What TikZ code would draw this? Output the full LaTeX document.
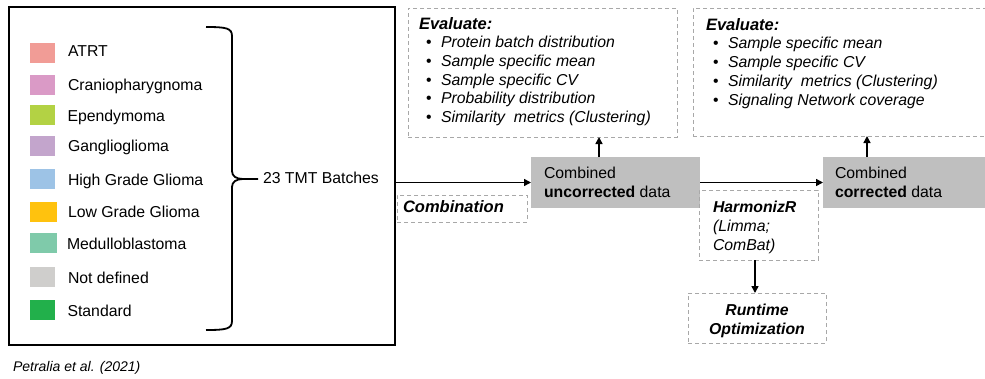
\documentclass[tikz,border=0pt]{standalone}
\usepackage{fontspec}
\setmainfont{Liberation Sans}
\usetikzlibrary{arrows.meta,calc}
\definecolor{cATRT}{HTML}{F19C96}
\definecolor{cCran}{HTML}{DA9AC6}
\definecolor{cEpen}{HTML}{B3D244}
\definecolor{cGang}{HTML}{C3A5CC}
\definecolor{cHGG}{HTML}{9DC3E6}
\definecolor{cLGG}{HTML}{FFC20E}
\definecolor{cMed}{HTML}{7FCAAA}
\definecolor{cND}{HTML}{CFCECC}
\definecolor{cStd}{HTML}{22B04B}
\definecolor{dashgray}{HTML}{A8A8A8}
\definecolor{boxgray}{HTML}{BFBFBF}
\newcommand{\mainfs}{\fontsize{15.8}{18.6}\selectfont}
\newcommand{\bigbfs}{\fontsize{16.5}{18.6}\selectfont}
\newcommand{\bit}[1]{\textbf{\textit{#1}}}
\newcommand{\evitem}[1]{\hbox{\hspace*{7pt}\makebox[15pt][l]{\textbullet}\textit{#1}}}
\tikzset{
  every node/.style={inner sep=0pt, outer sep=0pt},
  txt/.style={font=\mainfs, anchor=base west},
  swatch/.style={minimum height=20pt, anchor=west},
  dbox/.style={draw=dashgray, line width=0.9pt, dash pattern=on 4pt off 3pt, anchor=north west},
  gbox/.style={fill=boxgray, anchor=north west},
  arr/.style={line width=1.5pt, -{Triangle[length=7pt,width=7pt]}},
}
\begin{document}
\begin{tikzpicture}[x=1pt,y=-1pt]
\clip (0,0) rectangle (985,378);
\fill[white] (0,0) rectangle (985,378);
% left box
\node[draw=black, line width=1.8pt, anchor=north west, minimum width=386pt, minimum height=338pt] (leftbox) at (9,7) {};
% legend
\node[swatch, fill=cATRT, minimum width=25pt] (sw1) at (30,53) {};
\node[swatch, fill=cCran, minimum width=25pt] (sw2) at (30,85) {};
\node[swatch, fill=cEpen, minimum width=25pt] (sw3) at (30,114.5) {};
\node[swatch, fill=cGang, minimum width=25pt] (sw4) at (30,145.5) {};
\node[swatch, fill=cHGG, minimum width=25pt] (sw5) at (30,178.5) {};
\node[swatch, fill=cLGG, minimum width=27pt] (sw6) at (30,212) {};
\node[swatch, fill=cMed, minimum width=27pt] (sw7) at (30,243) {};
\node[swatch, fill=cND, minimum width=25pt] (sw8) at (30,277) {};
\node[swatch, fill=cStd, minimum width=25pt] (sw9) at (30,309.5) {};
\node[txt] (l1) at (68,56.7) {ATRT};
\node[txt] (l2) at (68,90) {Craniopharygnoma};
\node[txt] (l3) at (67.5,121.5) {Ependymoma};
\node[txt] (l4) at (68,151.7) {Ganglioglioma};
\node[txt] (l5) at (68,185) {High Grade Glioma};
\node[txt] (l6) at (68,217.7) {Low Grade Glioma};
\node[txt] (l7) at (67,249.3) {Medulloblastoma};
\node[txt] (l8) at (68,283.3) {Not defined};
\node[txt] (l9) at (67.5,316.7) {Standard};
% brace
\draw[line width=1.8pt] (206,27) .. controls (226,27) and (232,28) .. (232,36) -- (232,171)
  .. controls (232,176) and (236,179) .. (243,179) -- (258,179);
\draw[line width=1.8pt] (206,330) .. controls (226,330) and (232,329) .. (232,321) -- (232,187)
  .. controls (232,182) and (236,179) .. (243,179);
\node[txt] (batches) at (263,183.5) {23 TMT Batches};
\node[font=\fontsize{14}{16}\selectfont\itshape, anchor=base west] (cite) at (13,371.5) {Petralia et al. (2021)};
% grey data boxes
\node[gbox, minimum width=169pt, minimum height=51pt] (uncor) at (531,157) {};
\node[gbox, minimum width=175pt, minimum height=51pt] (corr) at (823,157) {};
\node[txt] (u1t) at (544,178.5) {Combined};
\node[txt] (u2t) at (544,197.5) {\textbf{uncorrected} data};
\node[txt] (c1t) at (835,178.5) {Combined};
\node[txt] (c2t) at (835,197.5) {\textbf{corrected} data};
% dashed boxes
\node[dbox, minimum width=269pt, minimum height=129pt] (eval1) at (408,8) {};
\node[dbox, minimum width=300pt, minimum height=128pt] (eval2) at (693,8) {};
\node[dbox, minimum width=130pt, minimum height=27pt] (comb) at (397,195) {};
\node[dbox, minimum width=119pt, minimum height=70pt] (harm) at (699,190) {};
\node[dbox, minimum width=138pt, minimum height=50pt] (runtime) at (688,293) {};
% dashed box texts
\node[txt] (ev1t) at (419,29.3) {\vtop{\baselineskip=18.6pt
  \hbox{\bigbfs\bit{Evaluate:}}
  \evitem{Protein batch distribution}
  \evitem{Sample specific mean}
  \evitem{Sample specific CV}
  \evitem{Probability distribution}
  \evitem{Similarity\ \ metrics (Clustering)}}};
\node[txt] (ev2t) at (706,30) {\vtop{\baselineskip=18.8pt
  \hbox{\bigbfs\bit{Evaluate:}}
  \evitem{Sample specific mean}
  \evitem{Sample specific CV}
  \evitem{Similarity\ \ metrics (Clustering)}
  \evitem{Signaling Network coverage}}};
\node[txt, font=\bigbfs] (combt) at (403,212) {\bit{Combination}};
\node[txt] (harmt) at (713,212.7) {\vtop{\baselineskip=19pt
  \hbox{\bit{HarmonizR}}
  \hbox{\textit{(Limma;}}
  \hbox{\textit{ComBat)}}}};
\node[font=\mainfs, anchor=base] (rt1) at (757,315) {\bit{Runtime}};
\node[font=\mainfs, anchor=base] (rt2) at (757,334.3) {\bit{Optimization}};
% connectors
\coordinate (ua) at (599,157);
\coordinate (ca) at (867,157);
\coordinate (ha) at (755,260);
\draw[arr] (leftbox.east |- uncor.west) -- (uncor.west);
\draw[arr] (uncor.east) -- (corr.west);
\draw[arr] (ua) -- (ua |- eval1.south);
\draw[arr] (ca) -- (ca |- eval2.south);
\draw[arr] (ha) -- (ha |- runtime.north);
\end{tikzpicture}
\end{document}
